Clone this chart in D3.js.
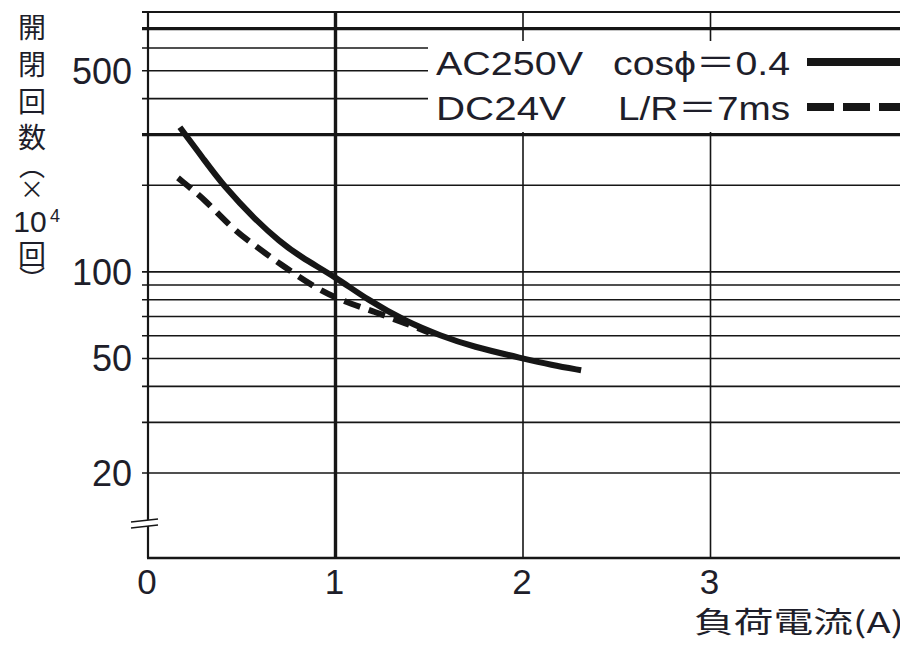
<!DOCTYPE html>
<html><head><meta charset="utf-8">
<script src="https://cdn.jsdelivr.net/npm/d3@7"></script>
<style>body{margin:0;background:#fff;overflow:hidden} .vt{writing-mode:vertical-rl;}</style>
</head><body>
<svg id="c" width="900" height="646"></svg>
<script>
// ---- data ----
const xTicks = [0, 1, 2, 3];
const yLabelTicks = [20, 50, 100, 500];
const yGrid = [20, 30, 40, 50, 60, 70, 80, 90, 100, 200, 400, 500, 600];
const yThick = [300, 700];
const yTop = 800;
const xThick = [1];
const xThin = [2, 3];
const acCurrent = [0.17, 0.30, 0.40, 0.58, 0.70, 0.81, 1.00, 1.17, 1.38, 1.56, 1.73, 2.00, 2.15, 2.31];
const acLife    = [318, 245, 200, 150, 128, 113, 96, 80, 67, 60, 55, 50, 47.5, 45.5];
const dcCurrent = [0.16, 0.31, 0.44, 0.58, 0.70, 0.88, 1.02, 1.20, 1.38, 1.50];
const dcLife    = [212, 177, 143, 122, 107, 89, 80, 73, 66, 61.5];
const legendRows = [
  {volt: "AC250V", cond: "cos\u03D5\uFF1D0.4", dash: null},
  {volt: "DC24V", cond: "L/R\uFF1D7ms", dash: "27,9"}
];
const yTitleHead = ["開", "閉", "回", "数", "（", "×"];
const yTitleTail = ["回", "）"];
const xTitle = "負荷電流(A)";

// ---- layout ----
const svg = d3.select("#c");
const x = d3.scaleLinear().domain([0, 4]).range([148, 898]);
const y = d3.scaleLog().domain([20, 800]).range([473, 12]);
const bottomY = 558, breakY = 520, rightX = 900;
const ink = "#161616";
const txt = "#1e1e2a";
const latin = "'Liberation Sans', Arial, 'Noto Sans CJK JP', sans-serif";
const cjk = "'Noto Sans CJK JP', sans-serif";

// thin horizontal grid
svg.append("g").selectAll("line").data(yGrid).join("line")
  .attr("x1", x(0) - 6).attr("x2", rightX)
  .attr("y1", d => y(d)).attr("y2", d => y(d))
  .attr("stroke", ink).attr("stroke-width", 1.6);
// top line
svg.append("line").attr("x1", x(0) - 6).attr("x2", rightX)
  .attr("y1", y(yTop)).attr("y2", y(yTop)).attr("stroke", ink).attr("stroke-width", 2.2);
// thin vertical grid
svg.append("g").selectAll("line").data(xThin).join("line")
  .attr("x1", d => x(d)).attr("x2", d => x(d))
  .attr("y1", y(yTop)).attr("y2", bottomY)
  .attr("stroke", ink).attr("stroke-width", 1.6);

// legend box (white)
svg.append("rect").attr("x", 428).attr("y", 41).attr("width", 480).attr("height", 91).attr("fill", "#fff");

// thick lines
svg.append("g").selectAll("line").data(yThick).join("line")
  .attr("x1", x(0) - 6).attr("x2", rightX)
  .attr("y1", d => y(d)).attr("y2", d => y(d))
  .attr("stroke", ink).attr("stroke-width", 3.2);
svg.append("g").selectAll("line").data(xThick).join("line")
  .attr("x1", d => x(d)).attr("x2", d => x(d))
  .attr("y1", y(yTop)).attr("y2", bottomY)
  .attr("stroke", ink).attr("stroke-width", 3.4);

// axes
svg.append("line").attr("x1", x(0)).attr("x2", x(0)).attr("y1", y(yTop)).attr("y2", bottomY)
  .attr("stroke", ink).attr("stroke-width", 2.2);
svg.append("line").attr("x1", x(0) - 1).attr("x2", rightX).attr("y1", bottomY).attr("y2", bottomY)
  .attr("stroke", ink).attr("stroke-width", 2.4);
// break mark
svg.append("polygon").attr("points", `${x(0)-4},${breakY+1} ${x(0)+4},${breakY-1} ${x(0)+4},${breakY+5} ${x(0)-4},${breakY+7}`)
  .attr("fill", "#fff");
svg.append("g").selectAll("line").data([0, 6]).join("line")
  .attr("x1", x(0) - 17).attr("x2", x(0) + 10)
  .attr("y1", d => breakY + 2 + d).attr("y2", d => breakY - 1 + d)
  .attr("stroke", ink).attr("stroke-width", 1.6);

// tick labels
svg.append("g").selectAll("text").data(yLabelTicks).join("text")
  .attr("x", 132).attr("y", d => y(d)).attr("dy", "0.36em")
  .attr("text-anchor", "end").attr("font-family", latin).attr("font-size", 36)
  .attr("fill", txt).text(d => d);
svg.append("g").selectAll("text").data(xTicks).join("text")
  .attr("x", d => x(d) - 1).attr("y", 594)
  .attr("text-anchor", "middle").attr("font-family", latin).attr("font-size", 35)
  .attr("fill", txt).text(d => d);

// axis titles
svg.append("text").attr("x", 694).attr("y", 633).attr("font-family", cjk).attr("font-size", 29)
  .attr("textLength", 210).attr("lengthAdjust", "spacingAndGlyphs")
  .attr("fill", txt).text(xTitle);
const yt = svg.append("g").attr("fill", txt).attr("font-family", cjk).attr("text-anchor", "middle");
const cy1 = [27, 64, 101, 137, 166, 189];
const fs1 = [28, 28, 28, 28, 26, 24];
yt.selectAll("text.a").data(yTitleHead).join("text").attr("class", "a vt")
  .attr("font-size", (d, i) => fs1[i])
  .attr("x", 32).attr("y", (d, i) => cy1[i]).text(d => d);
yt.append("text").attr("x", 30).attr("y", 232).attr("font-family", latin).attr("font-size", 30).text("10");
yt.append("text").attr("x", 55).attr("y", 222).attr("font-family", latin).attr("font-size", 18).text("4");
const cy2 = [254, 279];
const fs2 = [28, 26];
yt.selectAll("text.b").data(yTitleTail).join("text").attr("class", "b vt")
  .attr("font-size", (d, i) => fs2[i])
  .attr("x", 32).attr("y", (d, i) => cy2[i]).text(d => d);

// legend
const lg = svg.append("g").attr("font-family", latin).attr("font-size", 34).attr("fill", txt);
const rowY = [75, 120];
lg.selectAll("text.v").data(legendRows).join("text").attr("class", "v")
  .attr("x", 436).attr("y", (d, i) => rowY[i])
  .attr("textLength", (d, i) => i === 0 ? 147 : 130).attr("lengthAdjust", "spacingAndGlyphs")
  .text(d => d.volt);
lg.selectAll("text.c").data(legendRows).join("text").attr("class", "c")
  .attr("x", (d, i) => i === 0 ? 613 : 618).attr("y", (d, i) => rowY[i])
  .attr("textLength", (d, i) => i === 0 ? 177 : 172).attr("lengthAdjust", "spacingAndGlyphs")
  .text(d => d.cond);
svg.append("g").selectAll("line").data(legendRows).join("line")
  .attr("x1", 807).attr("x2", rightX)
  .attr("y1", (d, i) => rowY[i] - 13).attr("y2", (d, i) => rowY[i] - 13)
  .attr("stroke", ink).attr("stroke-width", 8)
  .attr("stroke-dasharray", d => d.dash);

// curves
const line = d3.line().x(d => x(d[0])).y(d => y(d[1])).curve(d3.curveBasis);
const ac = acCurrent.map((c, i) => [c, acLife[i]]);
const dc = dcCurrent.map((c, i) => [c, dcLife[i]]);
svg.append("path").attr("d", line(dc)).attr("fill", "none").attr("stroke", ink)
  .attr("stroke-width", 6).attr("stroke-dasharray", "17,9");
svg.append("path").attr("d", line(ac)).attr("fill", "none").attr("stroke", ink)
  .attr("stroke-width", 6).attr("stroke-linecap", "butt");
</script>
</body></html>
